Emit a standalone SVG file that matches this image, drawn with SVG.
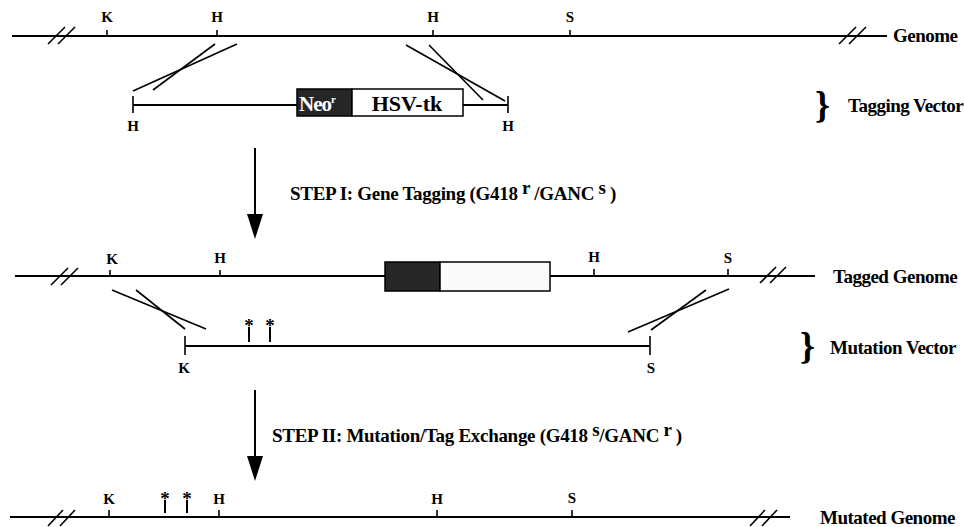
<svg xmlns="http://www.w3.org/2000/svg" width="964" height="527" viewBox="0 0 964 527">
<defs>
<style>
.ln{stroke:#000;stroke-width:2;fill:none}
.thin{stroke:#000;stroke-width:1.6;fill:none}
.lbl{font-family:"Liberation Serif",serif;font-weight:bold;font-size:15px;fill:#000;text-anchor:middle}
.star{font-family:"Liberation Serif",serif;font-weight:bold;font-size:19px;fill:#000;text-anchor:middle}
.name{font-family:"Liberation Serif",serif;font-weight:bold;font-size:19px;fill:#000;letter-spacing:-0.5px}
.step{font-family:"Liberation Serif",serif;font-weight:bold;font-size:19px;fill:#000;letter-spacing:-0.3px}
.brace{font-family:"Liberation Serif",serif;font-weight:bold;font-size:38px;fill:#000}
.head{fill:#000;stroke:none}
</style>
</defs>
<rect width="964" height="527" fill="#fff"/>

<!-- Genome -->
<g id="genome">
<line class="ln" x1="12" y1="36" x2="887" y2="36"/>
<line class="thin" x1="48" y1="44" x2="65" y2="27"/>
<line class="thin" x1="58" y1="44" x2="75" y2="27"/>
<line class="thin" x1="839" y1="44" x2="856" y2="27"/>
<line class="thin" x1="849" y1="44" x2="866" y2="27"/>
<line class="thin" x1="107" y1="30" x2="107" y2="36"/>
<line class="thin" x1="217" y1="30" x2="217" y2="36"/>
<line class="thin" x1="433" y1="30" x2="433" y2="36"/>
<line class="thin" x1="570" y1="30" x2="570" y2="36"/>
<text class="lbl" x="107" y="22">K</text>
<text class="lbl" x="217" y="22">H</text>
<text class="lbl" x="433" y="22">H</text>
<text class="lbl" x="570" y="22">S</text>
<text class="name" x="893" y="42">Genome</text>
</g>

<!-- Tagging vector -->
<g id="tagging-vector">
<line class="ln" x1="133" y1="105" x2="297" y2="105"/>
<line class="ln" x1="463" y1="105" x2="508" y2="105"/>
<line class="thin" x1="133" y1="96" x2="133" y2="113"/>
<line class="thin" x1="508" y1="96" x2="508" y2="113"/>
<rect x="297" y="89" width="55" height="27" fill="#262626" stroke="#000" stroke-width="1.5"/>
<rect x="352" y="89" width="111" height="27" fill="#fff" stroke="#000" stroke-width="1.5"/>
<text x="299" y="111" font-family="Liberation Serif,serif" font-weight="bold" font-size="21" fill="#fff" letter-spacing="-1">Neo<tspan font-size="11" dy="-8">r</tspan></text>
<text x="407" y="111" font-family="Liberation Serif,serif" font-weight="bold" font-size="22" fill="#000" text-anchor="middle">HSV-tk</text>
<text class="lbl" x="133" y="131">H</text>
<text class="lbl" x="508" y="131">H</text>
<text class="brace" x="815" y="118">}</text>
<text class="name" x="848" y="112">Tagging Vector</text>
</g>

<!-- crossover 1 -->
<g id="crossover-1">
<line class="thin" x1="133" y1="91" x2="237" y2="44"/>
<line class="thin" x1="153" y1="90" x2="215" y2="44"/>
<line class="thin" x1="406" y1="45" x2="505" y2="101"/>
<line class="thin" x1="429" y1="45" x2="483" y2="100"/>
</g>

<!-- Tagged genome -->
<g id="tagged-genome">
<line class="ln" x1="15" y1="276" x2="385" y2="276"/>
<line class="ln" x1="550" y1="276" x2="815" y2="276"/>
<line class="thin" x1="51" y1="285" x2="68" y2="268"/>
<line class="thin" x1="61" y1="285" x2="78" y2="268"/>
<line class="thin" x1="760" y1="283" x2="776" y2="267"/>
<line class="thin" x1="770" y1="283" x2="786" y2="267"/>
<rect x="385" y="262" width="55" height="29" fill="#262626" stroke="#000" stroke-width="1.5"/>
<rect x="440" y="262" width="110" height="29" fill="#fafafa" stroke="#000" stroke-width="1.5"/>
<line class="thin" x1="110" y1="270" x2="110" y2="276"/>
<line class="thin" x1="220" y1="270" x2="220" y2="276"/>
<line class="thin" x1="594" y1="269" x2="594" y2="276"/>
<line class="thin" x1="728" y1="269" x2="728" y2="276"/>
<text class="lbl" x="112" y="264">K</text>
<text class="lbl" x="220" y="263">H</text>
<text class="lbl" x="594" y="262">H</text>
<text class="lbl" x="728" y="263">S</text>
<text class="name" x="833" y="283">Tagged Genome</text>
</g>

<!-- crossover 2 -->
<g id="crossover-2">
<line class="thin" x1="112" y1="290" x2="206" y2="329"/>
<line class="thin" x1="136" y1="290" x2="185" y2="329"/>
<line class="thin" x1="628" y1="332" x2="729" y2="289"/>
<line class="thin" x1="651" y1="330" x2="706" y2="290"/>
</g>

<!-- Mutation vector -->
<g id="mutation-vector">
<line class="ln" x1="185" y1="346" x2="650" y2="346"/>
<line class="thin" x1="185" y1="336" x2="185" y2="355"/>
<line class="thin" x1="650" y1="336" x2="650" y2="355"/>
<line class="ln" x1="249" y1="327" x2="249" y2="342"/>
<line class="ln" x1="270" y1="327" x2="270" y2="342"/>
<text class="star" x="249" y="332">*</text>
<text class="star" x="270" y="332">*</text>
<text class="lbl" x="184" y="373">K</text>
<text class="lbl" x="651" y="373">S</text>
<text class="brace" x="800" y="359">}</text>
<text class="name" x="830" y="354">Mutation Vector</text>
</g>

<!-- Mutated genome -->
<g id="mutated-genome">
<line class="ln" x1="10" y1="517" x2="790" y2="517"/>
<line class="thin" x1="48" y1="526" x2="63" y2="510"/>
<line class="thin" x1="60" y1="526" x2="75" y2="510"/>
<line class="thin" x1="750" y1="526" x2="765" y2="510"/>
<line class="thin" x1="762" y1="526" x2="777" y2="510"/>
<line class="thin" x1="109" y1="510" x2="109" y2="517"/>
<line class="thin" x1="219" y1="510" x2="219" y2="517"/>
<line class="thin" x1="437" y1="510" x2="437" y2="517"/>
<line class="thin" x1="572" y1="510" x2="572" y2="517"/>
<line class="ln" x1="165" y1="500" x2="165" y2="513"/>
<line class="ln" x1="187" y1="500" x2="187" y2="513"/>
<text class="star" x="165" y="505">*</text>
<text class="star" x="187" y="505">*</text>
<text class="lbl" x="109" y="504">K</text>
<text class="lbl" x="219" y="504">H</text>
<text class="lbl" x="437" y="504">H</text>
<text class="lbl" x="572" y="503">S</text>
<text class="name" x="820" y="524">Mutated Genome</text>
</g>

<!-- connectors -->
<g id="connectors">
<line class="ln" x1="255" y1="148" x2="255" y2="218"/>
<polygon class="head" points="247,214 263,214 255,239"/>
<line class="ln" x1="255" y1="390" x2="255" y2="460"/>
<polygon class="head" points="247,456 263,456 255,481"/>
</g>

<g id="step-labels">
<text class="step" x="290" y="200">STEP I: Gene Tagging  (G418 <tspan dy="-6">r</tspan><tspan dy="6"> /GANC</tspan><tspan dy="-6"> s</tspan><tspan dy="6"> )</tspan></text>
<text class="step" x="272" y="442">STEP II: Mutation/Tag Exchange  (G418 <tspan dy="-6">s</tspan><tspan dy="6">/GANC</tspan><tspan dy="-6"> r</tspan><tspan dy="6"> )</tspan></text>
</g>
</svg>
